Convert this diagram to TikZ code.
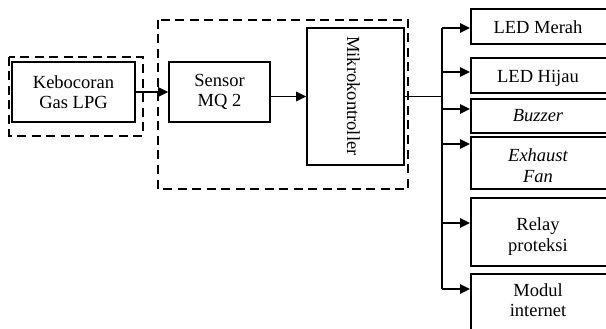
\documentclass[tikz,border=0pt]{standalone}
\usepackage{fontspec}
\setmainfont{Liberation Serif}
\usetikzlibrary{arrows.meta}
\tikzset{
  lbl/.style={inner sep=0pt, align=center, font=\fontsize{18.5}{20.5}\selectfont},
  box/.style={draw, line width=1.6pt, inner sep=0pt, align=center, font=\fontsize{18.5}{20.5}\selectfont},
  dashbox/.style={draw, line width=2.6pt, dash pattern=on 9pt off 5.5pt},
  conn/.style={line width=1.6pt},
  arr/.style={line width=1.6pt, -{Triangle[length=10pt,width=9.5pt]}},
}
\begin{document}
\begin{tikzpicture}[x=1pt,y=-1pt]
\useasboundingbox (0,0) rectangle (606,329);
\clip (0,0) rectangle (606,329);
% dashed groups
\draw[dashbox] (9,57) rectangle (143,136);
\draw[dashbox] (158,20) rectangle (408,189);
% left boxes
\node[box, minimum width=123pt, minimum height=60pt] (keb) at (73.5,92) {Kebocoran\\Gas LPG};
\node[box, minimum width=101pt, minimum height=60pt] (sensor) at (219.5,92) {Sensor\\MQ 2};
\node[box, minimum width=97pt, minimum height=137pt] (micro) at (355.5,96.5) {};
\node[lbl, rotate=-90] (microt) at (353.5,96) {Mikrokontroller};
% right boxes
\node[box, anchor=north west, minimum width=140pt, minimum height=35pt] (merah) at (470,8) {};
\node[box, anchor=north west, minimum width=140pt, minimum height=35pt] (hijau) at (470,57) {};
\node[box, anchor=north west, minimum width=140pt, minimum height=34pt] (buzzer) at (470,98) {};
\node[box, anchor=north west, minimum width=140pt, minimum height=52pt] (exhaust) at (470,136) {};
\node[box, anchor=north west, minimum width=140pt, minimum height=68pt] (relay) at (470,197) {};
\node[box, anchor=north west, minimum width=140pt, minimum height=80pt] (modul) at (470,273) {};
% labels
\node[lbl, anchor=base] (merahT) at (538,34) {LED Merah};
\node[lbl, anchor=base] (hijauT) at (538,82.3) {LED Hijau};
\node[lbl, anchor=base] (buzzerT) at (538,121.7) {\itshape Buzzer};
\node[lbl, anchor=north] (exhaustT) at (538,148.5) {\itshape Exhaust\\\itshape Fan};
\node[lbl, anchor=north] (relayT) at (538,217.5) {Relay\\proteksi};
\node[lbl, anchor=north] (modulT) at (538,283.2) {Modul\\internet};
% connectors
\draw[arr] (keb.east) -- (sensor.west);
\draw[arr] (sensor.east |- micro.west) -- (micro.west);
\coordinate (t1) at (442,28);
\coordinate (t2) at (442,72);
\coordinate (t3) at (442,109);
\coordinate (t4) at (442,144);
\coordinate (t5) at (442,223);
\coordinate (t6) at (442,289);
\draw[conn] (micro.east) -- (micro.east -| t1);
\draw[conn] (t1) -- (t6);
\draw[arr] (t1) -- (t1 -| merah.west);
\draw[arr] (t2) -- (t2 -| hijau.west);
\draw[arr] (t3) -- (t3 -| buzzer.west);
\draw[arr] (t4) -- (t4 -| exhaust.west);
\draw[arr] (t5) -- (t5 -| relay.west);
\draw[arr] (t6) -- (t6 -| modul.west);
\end{tikzpicture}
\end{document}
